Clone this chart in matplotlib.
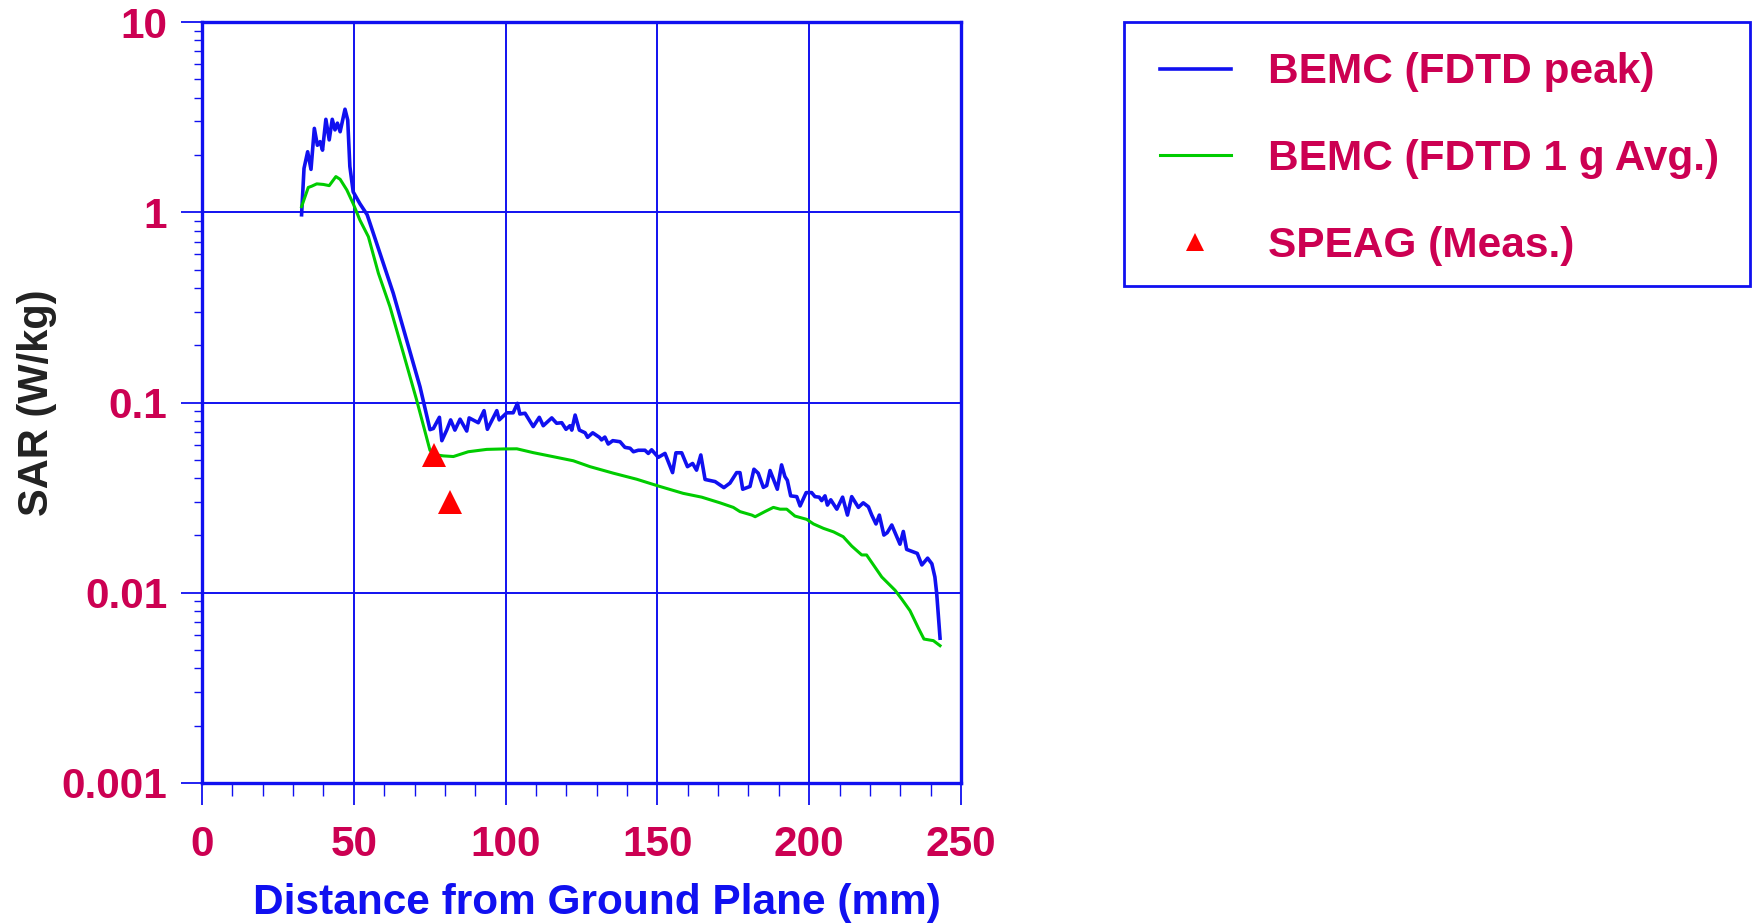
import matplotlib
matplotlib.use("Agg")
import matplotlib.pyplot as plt
from matplotlib.patches import Rectangle
from matplotlib.ticker import LogLocator, MultipleLocator, FixedLocator, NullFormatter

plt.rcParams['font.family'] = ['Liberation Sans', 'DejaVu Sans']
plt.rcParams['font.weight'] = 'bold'

# ---- data ----
peak_x = [32.8, 33.6, 34.8, 35.9, 37.0, 38.0, 38.9, 39.7, 40.8, 41.9, 42.9, 43.8, 44.6, 45.5,
          47.1, 48.0, 48.7, 49.8, 52.0, 54.4, 58.6, 63.0, 67.4, 71.8, 75.1, 76.2, 78.2, 79.0,
          80.6, 81.9, 83.3, 85.0, 87.2, 88.0, 91.0, 92.9, 94.0, 97.1, 97.9, 100.4, 102.5, 103.9,
          104.7, 106.4, 109.1, 111.1, 112.4, 115.2, 116.8, 118.5, 119.9, 121.2, 121.8, 122.9,
          124.3, 126.2, 127.0, 128.7, 130.9, 131.6, 132.7, 133.8, 135.3, 137.7, 139.3, 141.0,
          142.1, 143.7, 145.9, 147.0, 148.1, 150.3, 152.5, 155.0, 156.1, 158.0, 159.9, 161.6,
          162.9, 164.3, 165.7, 169.0, 171.9, 173.9, 176.1, 177.2, 178.1, 180.5, 181.8, 183.2,
          184.9, 186.0, 187.1, 189.5, 190.9, 192.0, 192.8, 193.9, 195.9, 197.0, 199.0, 200.8,
          201.9, 203.3, 204.1, 205.2, 206.0, 207.1, 209.1, 211.0, 212.6, 214.0, 216.2, 217.8,
          219.5, 220.6, 222.0, 223.1, 224.6, 225.7, 227.2, 228.6, 229.9, 231.0, 232.1, 234.3,
          235.6, 237.1, 239.0, 240.4, 241.4, 242.0, 243.1]
peak_y = [0.97, 1.70, 2.08, 1.68, 2.76, 2.25, 2.35, 2.12, 3.08, 2.40, 3.08, 2.71, 2.94, 2.65,
          3.48, 3.05, 1.74, 1.28, 1.11, 0.97, 0.61, 0.375, 0.213, 0.121, 0.072, 0.073, 0.0836, 0.063,
          0.0716, 0.081, 0.0716, 0.0817, 0.0708, 0.083, 0.0783, 0.0906, 0.0723, 0.0906, 0.081, 0.0883, 0.0883, 0.099,
          0.087, 0.0878, 0.0747, 0.0836, 0.0755, 0.083, 0.0778, 0.0783, 0.0723, 0.0755, 0.0716, 0.0859,
          0.0716, 0.0693, 0.0656, 0.0693, 0.0656, 0.0636, 0.0658, 0.0605, 0.063, 0.0622, 0.0581, 0.0575,
          0.0551, 0.0561, 0.0561, 0.054, 0.0564, 0.0515, 0.054, 0.0428, 0.0544, 0.0544, 0.046, 0.0478,
          0.0441, 0.053, 0.0394, 0.0384, 0.0357, 0.0377, 0.0428, 0.0428, 0.035, 0.0362, 0.0446, 0.0425,
          0.0358, 0.0366, 0.0439, 0.035, 0.047, 0.0408, 0.039, 0.0323, 0.032, 0.0286, 0.0336, 0.0336,
          0.032, 0.0318, 0.0305, 0.0323, 0.0289, 0.0308, 0.0275, 0.0318, 0.0256, 0.032, 0.0281, 0.0297,
          0.0283, 0.0256, 0.023, 0.0256, 0.0201, 0.0207, 0.0227, 0.0201, 0.018, 0.021, 0.0169, 0.0164,
          0.0161, 0.014, 0.0152, 0.0142, 0.0121, 0.0099, 0.00577]

avg_x = [32.8, 35.0, 36.1, 37.8, 40.0, 41.9, 44.1, 45.5, 47.7, 49.8, 52.0, 54.8, 58.1, 61.9,
         66.3, 70.7, 75.1, 77.3, 79.5, 82.8, 87.7, 93.8, 99.3, 103.7, 109.1, 115.7, 122.3, 127.8,
         135.5, 143.2, 150.3, 158.5, 164.6, 170.6, 175.0, 177.2, 181.1, 182.2, 185.4, 188.2, 190.4,
         192.6, 195.3, 199.2, 201.4, 204.7, 208.0, 211.2, 214.0, 217.3, 218.9, 223.9, 228.3, 230.5,
         233.2, 236.0, 237.8, 240.9, 243.1]
avg_y = [1.07, 1.35, 1.37, 1.41, 1.40, 1.38, 1.54, 1.49, 1.31, 1.11, 0.91, 0.744, 0.478, 0.319,
         0.182, 0.103, 0.056, 0.053, 0.0524, 0.052, 0.0551, 0.0567, 0.057, 0.0571, 0.0545, 0.0519, 0.0494, 0.046,
         0.0425, 0.0395, 0.0364, 0.0333, 0.0318, 0.0297, 0.0281, 0.0267, 0.0256, 0.0251, 0.0267, 0.0281, 0.0275,
         0.0275, 0.0253, 0.0243, 0.023, 0.0218, 0.0209, 0.0197, 0.0176, 0.0158, 0.0158, 0.0121, 0.0103, 0.00925,
         0.00805, 0.0065, 0.00571, 0.0056, 0.00527]

meas_x = [76.4, 81.7]
meas_y = [0.053, 0.030]

x_ticks = [0, 50, 100, 150, 200, 250]
y_ticks = [0.001, 0.01, 0.1, 1, 10]
y_ticklabels = ['0.001', '0.01', '0.1', '1', '10']

labels = ['BEMC (FDTD peak)', 'BEMC (FDTD 1 g Avg.)', 'SPEAG (Meas.)']

# ---- styles ----
BLUE = '#1010F0'
GREEN = '#00CC00'
RED = '#FF0000'
CRIMSON = '#CC0052'
W, H = 1752, 924

fig = plt.figure(figsize=(W/100, H/100), dpi=100)
ax = fig.add_axes([202/W, 1-783/H, (961-202)/W, (783-22)/H])

ax.plot(peak_x, peak_y, color=BLUE, lw=2.6, label=labels[0], zorder=3)
ax.plot(avg_x, avg_y, color=GREEN, lw=2.2, label=labels[1], zorder=3)
ax.plot(meas_x, meas_y, linestyle='none', marker='^', ms=17, color=RED,
        markeredgewidth=0, label=labels[2], zorder=4)

ax.set_yscale('log')
ax.set_xlim(0, 250)
ax.set_ylim(0.001, 10)

ax.xaxis.set_major_locator(FixedLocator(x_ticks))
ax.xaxis.set_minor_locator(MultipleLocator(10))
ax.yaxis.set_major_locator(FixedLocator(y_ticks))
ax.set_yticklabels(y_ticklabels)
ax.yaxis.set_minor_locator(LogLocator(base=10, subs=range(2, 10)))
ax.yaxis.set_minor_formatter(NullFormatter())

ax.grid(True, which='major', color=BLUE, lw=1.4)
for s in ax.spines.values():
    s.set_color(BLUE)
    s.set_linewidth(2.4)

ax.xaxis.set_tick_params(which='major', direction='out', length=16, width=1.3, color=BLUE,
                         pad=14, labelsize=30.5, labelcolor=CRIMSON)
ax.xaxis.set_tick_params(which='minor', direction='out', length=9, width=1.0, color=BLUE)
ax.yaxis.set_tick_params(which='major', direction='out', length=15, width=1.3, color=BLUE,
                         pad=10, labelsize=30.5, labelcolor=CRIMSON)
ax.yaxis.set_tick_params(which='minor', direction='out', length=6, width=1.0, color=BLUE)
for lab in ax.get_xticklabels() + ax.get_yticklabels():
    lab.set_fontweight('bold')

ax.set_xlabel('Distance from Ground Plane (mm)', fontsize=30.5, fontweight='bold',
              color=BLUE, labelpad=12)
ax.xaxis.set_label_coords(0.52, -0.131)
ax.set_ylabel('SAR (W/kg)', fontsize=30, fontweight='bold', color='#222222', labelpad=3)

# legend frame (figure pixels 1124..1750 x 22..286)
fig.patches.append(Rectangle((1124/W, 1-286/H), (1750-1124)/W, (286-22)/H,
                             transform=fig.transFigure, fill=False,
                             edgecolor=BLUE, lw=2.0, zorder=1))
leg = fig.legend(loc='upper left', bbox_to_anchor=(1160/W, 1-52.5/H),
                 prop={'weight': 'bold', 'size': 30.5},
                 frameon=False, borderpad=0, labelspacing=1.1, handlelength=1.67,
                 handletextpad=0.87, markerscale=0.8, borderaxespad=0)
for t in leg.get_texts():
    t.set_color(CRIMSON)

fig.savefig('out.png', dpi=100)
